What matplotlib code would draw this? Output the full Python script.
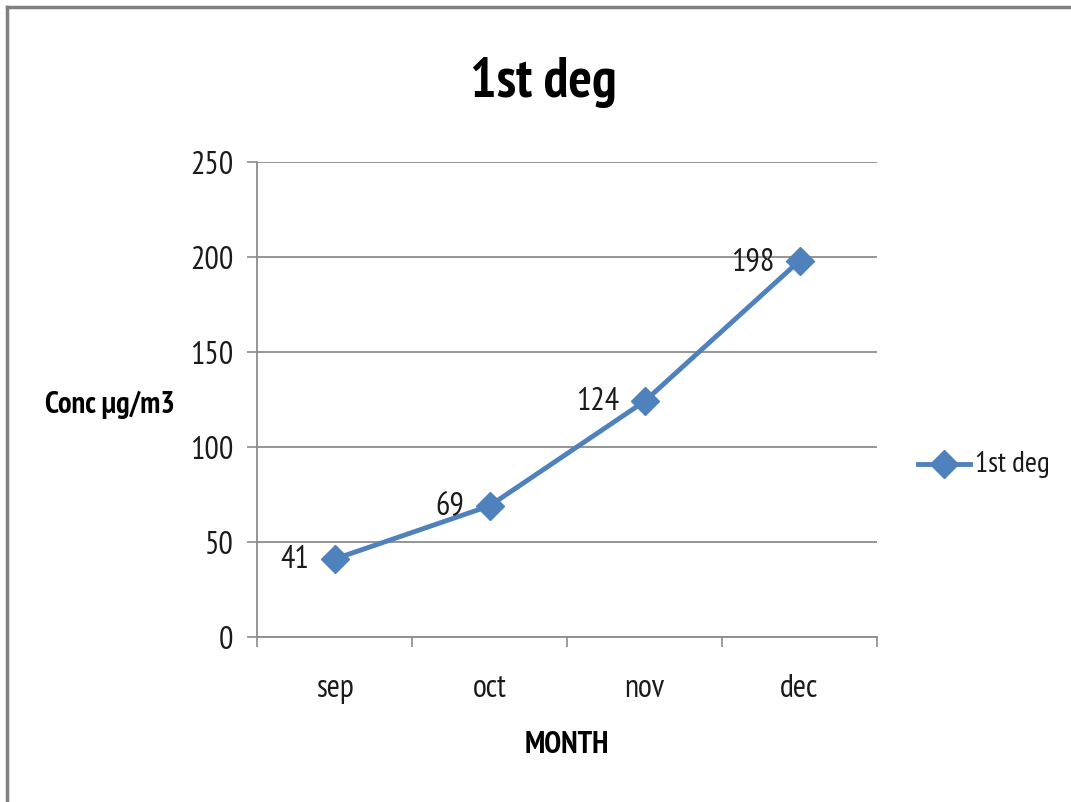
import matplotlib
matplotlib.use("Agg")
import matplotlib.pyplot as plt
from matplotlib.lines import Line2D

months = ["sep", "oct", "nov", "dec"]
conc = [41, 69, 124, 198]
y_ticks = [0, 50, 100, 150, 200, 250]
series_name = "1st deg"

plt.rcParams["font.family"] = ["PT Sans Narrow", "DejaVu Sans"]

line_color = "#4F81BD"
grid_color = "#8C8C8C"
text_color = "#1A1A1A"

fig = plt.figure(figsize=(10.71, 8.03), dpi=100)
ax = fig.add_axes([257 / 1071, 1 - 638 / 803, 620 / 1071, 475 / 803])

x = list(range(len(months)))
ax.plot(x, conc, color=line_color, lw=3.5, marker="D", markersize=14,
        markeredgecolor=line_color, markerfacecolor=line_color, solid_joinstyle="round")

# value labels sit to the left of each point
for xi, v in zip(x, conc):
    ax.annotate(str(v), (xi, v), xytext=(-25, 0), textcoords="offset pixels",
                ha="right", va="center", fontsize=23, color=text_color)

ax.set_xlim(-0.5, len(months) - 0.5)
ax.set_ylim(0, 250)
ax.set_yticks(y_ticks)
ax.set_yticklabels([str(t) for t in y_ticks], fontsize=23, color=text_color)
ax.set_xticks(x)
ax.set_xticklabels(months, fontsize=23, color=text_color)
ax.set_xticks([i - 0.5 for i in range(len(months) + 1)], minor=True)
ax.tick_params(axis="x", which="major", length=0, pad=26)
ax.tick_params(axis="x", which="minor", length=7, width=1.2, color=grid_color, direction="out")
ax.tick_params(axis="y", length=7, width=1.2, color=grid_color, direction="out", pad=10)

ax.grid(axis="y", color=grid_color, lw=1.3)
ax.set_axisbelow(True)
for side in ["top", "right"]:
    ax.spines[side].set_visible(False)
ax.spines["left"].set_color(grid_color)
ax.spines["left"].set_linewidth(1.3)
ax.spines["bottom"].set_color(grid_color)
ax.spines["bottom"].set_linewidth(1.3)

fig.text(543 / 1071, 1 - 82 / 803, series_name, fontsize=40, fontweight="bold",
         ha="center", va="center")
fig.text(45 / 1071, 1 - 405 / 803, "Conc µg/m3", fontsize=22, fontweight="bold",
         ha="left", va="center")
fig.text(567 / 1071, 1 - 745 / 803, "MONTH", fontsize=22, fontweight="bold",
         ha="center", va="center")

# legend entry drawn at the right of the plot area
fig.add_artist(Line2D([918 / 1071, 970 / 1071], [1 - 465 / 803] * 2, color=line_color, lw=3.5,
                      transform=fig.transFigure))
fig.add_artist(Line2D([944 / 1071], [1 - 465 / 803], color=line_color, marker="D",
                      markersize=14, transform=fig.transFigure))
fig.text(975 / 1071, 1 - 465 / 803, series_name, fontsize=21, ha="left", va="center",
         color=text_color)

# outer frame on the top and left edges
fig.add_artist(Line2D([7 / 1071, 1], [1 - 8 / 803] * 2, color="#808080", lw=2.5,
                      transform=fig.transFigure))
fig.add_artist(Line2D([7 / 1071] * 2, [0, 1 - 8 / 803], color="#808080", lw=2.5,
                      transform=fig.transFigure))

fig.savefig("out.png", dpi=100)
